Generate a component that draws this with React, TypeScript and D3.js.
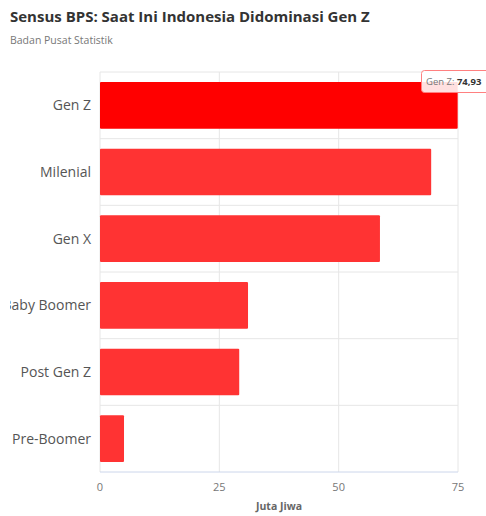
import React from "react";
import * as d3 from "d3";

const categories = ["Gen Z", "Milenial", "Gen X", "Baby Boomer", "Post Gen Z", "Pre-Boomer"];
const values = [74.93, 69.38, 58.65, 31.01, 29.17, 5.03];
const xTicks = [0, 25, 50, 75];
const title = "Sensus BPS: Saat Ini Indonesia Didominasi Gen Z";
const subtitle = "Badan Pusat Statistik";
const xTitle = "Juta Jiwa";

const W = 486, H = 516;
const left = 100, right = 458, top = 72, bottom = 472;
const font = "'Open Sans', sans-serif";

export default function App() {
  const x = d3.scaleLinear().domain([0, 75]).range([left, right]);
  const y = d3.scaleBand<string>().domain(categories).range([top, bottom]).paddingInner(0.3).paddingOuter(0.15);
  const step = y.step();
  return (
    <svg width={W} height={H} style={{ position: "absolute", left: 0, top: 0, background: "#fff" }} fontFamily={font}>
      <defs>
        <clipPath id="clipc"><rect x={10} y={0} width={W - 10} height={H} /></clipPath>
      </defs>
      <text x={10} y={22} fontSize={15} fontWeight={700} fill="#333">{title}</text>
      <text x={10} y={44} fontSize={10.5} fill="#777">{subtitle}</text>
      {categories.map((c, i) => (
        <line key={"h" + i} x1={left} x2={right} y1={top + i * step} y2={top + i * step} stroke="#e6e6e6" />
      ))}
      {xTicks.map((t) => (
        <line key={"v" + t} x1={x(t)} x2={x(t)} y1={top} y2={bottom} stroke="#e6e6e6" />
      ))}
      <line x1={left} x2={right} y1={bottom} y2={bottom} stroke="#ccd6eb" />
      {categories.map((c, i) => (
        <rect key={c} x={x(0)} y={y(c)} width={x(values[i]) - x(0)} height={y.bandwidth()} rx={1}
          fill={i === 0 ? "#ff0000" : "#ff3333"} />
      ))}
      <g clipPath="url(#clipc)">
        {categories.map((c) => (
          <text key={"l" + c} x={91} y={(y(c) as number) + y.bandwidth() / 2} dy="0.35em" textAnchor="end" fontSize={14} fill="#555">{c}</text>
        ))}
      </g>
      {xTicks.map((t) => (
        <text key={"t" + t} x={x(t)} y={bottom + 19} textAnchor="middle" fontSize={11} fill="#777">{t}</text>
      ))}
      <text x={(left + right) / 2} y={bottom + 38} textAnchor="middle" fontSize={10.5} fontWeight={700} fill="#666">{xTitle}</text>
      <g>
        <rect x={421.5} y={70.5} width={80} height={22} rx={3} fill="rgba(255,255,255,0.88)" stroke="#ff8080" />
        <text x={426} y={85} fontSize={9.5} fill="#777">
          <tspan>Gen Z: </tspan>
          <tspan fontWeight={700} fill="#333">{values[0].toFixed(2).replace(".", ",")}</tspan>
        </text>
      </g>
    </svg>
  );
}
